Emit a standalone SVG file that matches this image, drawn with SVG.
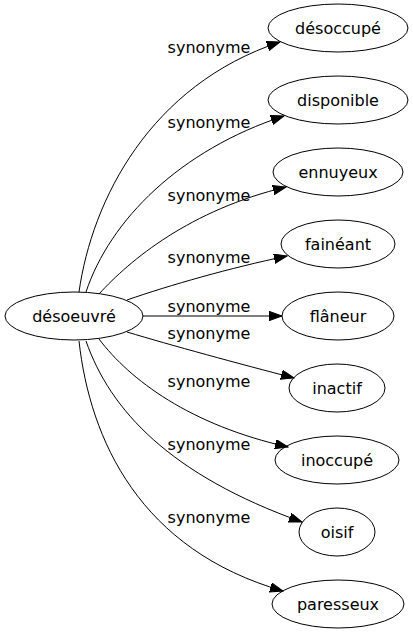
<svg xmlns="http://www.w3.org/2000/svg" width="413" height="635" viewBox="0 0 413 635">
<style>
.n ellipse{fill:none;stroke:#000;stroke-width:1}
text{font-family:"DejaVu Sans",sans-serif;font-size:16px;fill:#000;text-anchor:middle}
.e path{fill:none;stroke:#000;stroke-width:1;marker-end:url(#a)}
</style>
<defs>
<marker id="a" markerUnits="userSpaceOnUse" markerWidth="14" markerHeight="10" refX="13" refY="4.7" orient="auto">
<path d="M0,0 L13,4.7 L0,9.4 Z" fill="#000" stroke="#000" stroke-width="1"/>
</marker>
</defs>
<rect width="413" height="635" fill="#fff"/>
<g id="edges" class="e">
<path d="M79,292 C92,200 150,85 280,42"/>
<path d="M86,292 C110,220 180,150 284,116"/>
<path d="M99,294 C130,260 190,210 286,187"/>
<path d="M127,300 C170,285 230,268 287,256"/>
<path d="M143,316 L282,316"/>
<path d="M127,332 C170,345 240,364 294,378"/>
<path d="M99,339 C130,380 190,425 288,447"/>
<path d="M86,341 C110,410 170,475 302,522"/>
<path d="M79,341 C90,440 140,550 283,591"/>
<text x="209" y="53">synonyme</text>
<text x="209" y="128">synonyme</text>
<text x="209" y="201">synonyme</text>
<text x="209" y="263">synonyme</text>
<text x="209" y="312">synonyme</text>
<text x="209" y="339">synonyme</text>
<text x="209" y="387">synonyme</text>
<text x="209" y="450">synonyme</text>
<text x="209" y="523">synonyme</text>
</g>
<g id="desoeuvre" class="n"><ellipse cx="74" cy="316" rx="69" ry="24"/><text x="74" y="322">désoeuvré</text></g>
<g id="desoccupe" class="n"><ellipse cx="338" cy="28" rx="70" ry="24"/><text x="338" y="34">désoccupé</text></g>
<g id="disponible" class="n"><ellipse cx="338" cy="100" rx="70" ry="24"/><text x="338" y="106">disponible</text></g>
<g id="ennuyeux" class="n"><ellipse cx="338" cy="172" rx="65" ry="24"/><text x="338" y="178">ennuyeux</text></g>
<g id="faineant" class="n"><ellipse cx="338" cy="244" rx="57" ry="24"/><text x="338" y="250">fainéant</text></g>
<g id="flaneur" class="n"><ellipse cx="338" cy="316" rx="56" ry="24"/><text x="338" y="322">flâneur</text></g>
<g id="inactif" class="n"><ellipse cx="337" cy="388" rx="48" ry="24"/><text x="337" y="394">inactif</text></g>
<g id="inoccupe" class="n"><ellipse cx="337" cy="460" rx="62" ry="24"/><text x="337" y="466">inoccupé</text></g>
<g id="oisif" class="n"><ellipse cx="337" cy="532" rx="38" ry="24"/><text x="337" y="538">oisif</text></g>
<g id="paresseux" class="n"><ellipse cx="338" cy="604" rx="66" ry="24"/><text x="338" y="610">paresseux</text></g>
</svg>
